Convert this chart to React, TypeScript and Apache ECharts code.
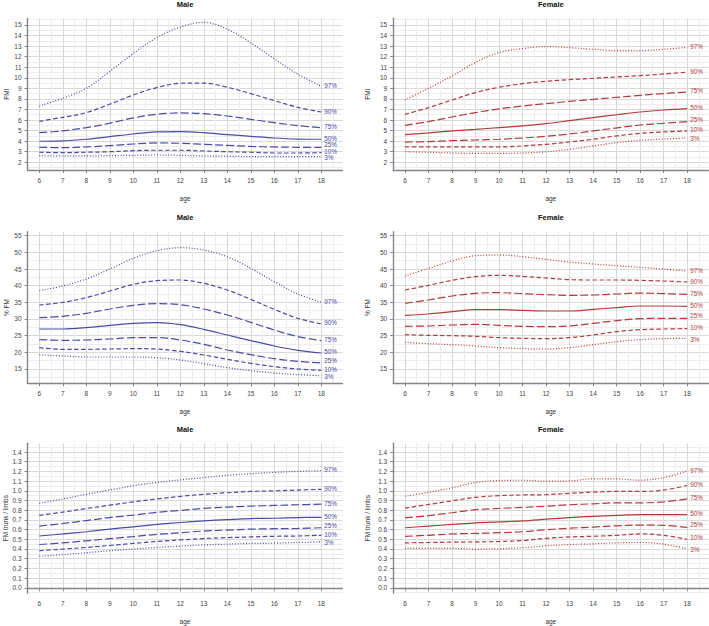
import React, { useEffect, useRef } from "react";
import * as echarts from "echarts";

// ---------- data ----------
const ages = [6, 7, 8, 9, 10, 11, 12, 13, 14, 15, 16, 17, 18];
const percentiles = ["97%", "90%", "75%", "50%", "25%", "10%", "3%"];

const ageTicks = [6, 7, 8, 9, 10, 11, 12, 13, 14, 15, 16, 17, 18];
const fmiTicks = [2, 3, 4, 5, 6, 7, 8, 9, 10, 11, 12, 13, 14, 15];
const fmTicks = [15, 20, 25, 30, 35, 40, 45, 50, 55];
const ratioTicks = [0, 0.1, 0.2, 0.3, 0.4, 0.5, 0.6, 0.7, 0.8, 0.9, 1.0, 1.1, 1.2, 1.3, 1.4];

// order of rows follows `percentiles`
const maleFmi = [
  [7.33, 8.06, 9.0, 10.6, 12.3, 13.8, 14.8, 15.25, 14.6, 13.3, 11.8, 10.35, 9.2],
  [5.88, 6.26, 6.7, 7.5, 8.37, 9.07, 9.48, 9.5, 9.1, 8.5, 7.84, 7.2, 6.76],
  [4.8, 4.97, 5.28, 5.7, 6.2, 6.54, 6.67, 6.6, 6.38, 6.07, 5.75, 5.47, 5.28],
  [3.99, 4.02, 4.18, 4.43, 4.68, 4.87, 4.9, 4.8, 4.62, 4.46, 4.3, 4.2, 4.18],
  [3.42, 3.39, 3.45, 3.58, 3.73, 3.83, 3.8, 3.7, 3.6, 3.5, 3.45, 3.42, 3.42],
  [2.95, 2.91, 2.95, 3.0, 3.1, 3.14, 3.14, 3.07, 3.0, 2.95, 2.88, 2.88, 2.91],
  [2.63, 2.6, 2.6, 2.63, 2.66, 2.69, 2.66, 2.6, 2.57, 2.54, 2.54, 2.54, 2.54],
];
const femaleFmi = [
  [7.9, 9.0, 10.17, 11.46, 12.38, 12.76, 12.95, 12.85, 12.7, 12.57, 12.57, 12.7, 12.88],
  [6.54, 7.17, 7.9, 8.6, 9.1, 9.44, 9.67, 9.82, 9.95, 10.08, 10.2, 10.36, 10.52],
  [5.5, 5.85, 6.29, 6.7, 7.05, 7.33, 7.55, 7.77, 7.96, 8.15, 8.34, 8.5, 8.66],
  [4.62, 4.78, 4.97, 5.12, 5.28, 5.44, 5.66, 5.94, 6.23, 6.5, 6.76, 6.95, 7.08],
  [3.9, 3.96, 4.05, 4.11, 4.18, 4.3, 4.46, 4.68, 4.97, 5.25, 5.53, 5.69, 5.85],
  [3.45, 3.45, 3.45, 3.45, 3.45, 3.55, 3.7, 3.92, 4.18, 4.5, 4.74, 4.87, 4.97],
  [3.0, 2.95, 2.88, 2.85, 2.85, 2.88, 3.0, 3.23, 3.55, 3.86, 4.08, 4.2, 4.3],
];
const maleFm = [
  [38.5, 39.9, 42, 45, 48.2, 50.5, 51.4, 50.7, 48.7, 45.2, 41.2, 37.5, 35.0],
  [34.2, 35, 36.4, 38.4, 40.4, 41.5, 41.7, 40.7, 38.7, 35.9, 32.9, 30.2, 28.5],
  [30.4, 30.8, 31.7, 33, 34.1, 34.6, 34.3, 33, 31.2, 29, 26.7, 24.7, 23.5],
  [27, 27, 27.4, 28.1, 28.7, 28.9, 28.3, 26.9, 25.2, 23.5, 21.9, 20.6, 19.8],
  [23.8, 23.6, 23.7, 24, 24.4, 24.4, 23.7, 22.4, 20.7, 19.3, 18.1, 17.3, 16.8],
  [21.4, 20.9, 20.9, 21, 21.1, 21, 20.3, 19.2, 17.9, 16.7, 15.7, 15, 14.6],
  [19.3, 18.9, 18.6, 18.6, 18.6, 18.4, 17.7, 16.6, 15.4, 14.5, 13.8, 13.3, 13.0],
];
const femaleFm = [
  [42.9, 45.2, 47.4, 49, 49.2, 48.7, 47.9, 47.1, 46.5, 46, 45.5, 45, 44.4],
  [38.7, 40.1, 41.6, 42.7, 43.1, 42.8, 42.3, 41.8, 41.7, 41.7, 41.6, 41.4, 41.1],
  [34.7, 35.7, 36.9, 37.7, 37.9, 37.6, 37.3, 37.1, 37.2, 37.5, 37.8, 37.6, 37.4],
  [31.1, 31.5, 32.2, 32.8, 32.8, 32.6, 32.4, 32.4, 32.9, 33.4, 33.9, 33.9, 33.8],
  [27.8, 27.9, 28.2, 28.4, 28.1, 27.8, 27.7, 27.9, 28.7, 29.5, 30.1, 30.2, 30.2],
  [25.3, 25.1, 25, 24.8, 24.4, 24.2, 24.1, 24.4, 25.2, 26.2, 26.8, 27, 27.1],
  [23, 22.6, 22.3, 21.9, 21.4, 21.1, 21, 21.4, 22.3, 23.2, 23.8, 24.1, 24.2],
];
const maleRatio = [
  [0.872, 0.916, 0.964, 1.008, 1.052, 1.086, 1.113, 1.136, 1.16, 1.177, 1.19, 1.2, 1.207],
  [0.747, 0.78, 0.818, 0.852, 0.886, 0.916, 0.943, 0.964, 0.98, 0.994, 1.0, 1.008, 1.015],
  [0.636, 0.663, 0.693, 0.724, 0.75, 0.778, 0.798, 0.818, 0.832, 0.842, 0.849, 0.856, 0.862],
  [0.534, 0.555, 0.578, 0.605, 0.629, 0.653, 0.673, 0.69, 0.703, 0.714, 0.717, 0.724, 0.727],
  [0.446, 0.463, 0.484, 0.507, 0.528, 0.551, 0.568, 0.585, 0.595, 0.605, 0.609, 0.612, 0.619],
  [0.382, 0.399, 0.416, 0.436, 0.457, 0.477, 0.494, 0.507, 0.517, 0.524, 0.531, 0.534, 0.541],
  [0.325, 0.342, 0.362, 0.382, 0.399, 0.416, 0.429, 0.443, 0.45, 0.457, 0.46, 0.467, 0.473],
];
const femaleRatio = [
  [0.944, 0.984, 1.031, 1.086, 1.106, 1.109, 1.099, 1.102, 1.123, 1.123, 1.109, 1.136, 1.204],
  [0.822, 0.859, 0.896, 0.933, 0.95, 0.957, 0.96, 0.974, 0.987, 0.994, 0.994, 1.008, 1.055],
  [0.72, 0.744, 0.774, 0.805, 0.818, 0.829, 0.842, 0.856, 0.866, 0.876, 0.876, 0.886, 0.916],
  [0.619, 0.636, 0.653, 0.67, 0.68, 0.69, 0.707, 0.724, 0.737, 0.747, 0.754, 0.754, 0.754],
  [0.531, 0.541, 0.555, 0.561, 0.568, 0.578, 0.599, 0.615, 0.626, 0.639, 0.646, 0.643, 0.622],
  [0.463, 0.467, 0.47, 0.473, 0.477, 0.487, 0.51, 0.524, 0.531, 0.541, 0.555, 0.541, 0.5],
  [0.406, 0.406, 0.406, 0.399, 0.402, 0.413, 0.433, 0.446, 0.453, 0.463, 0.467, 0.45, 0.402],
];

// ---------- styling ----------
const FONT = "Liberation Sans";
const MALE = "#4b4ba6";
const FEMALE = "#b23c3c";
const AXIS = "#858585";
const MAJOR = "#d9d9d9";
const MINOR = "#eeeeee";

const dashFor = (p: string): any => {
  if (p === "97%" || p === "3%") return [1, 1.8];
  if (p === "90%" || p === "10%") return [4.5, 2.5];
  if (p === "75%" || p === "25%") return [8, 3];
  return "solid";
};
const labelShift = (p: string): number => {
  if (p === "25%") return -2.5;
  if (p === "10%") return -1.3;
  if (p === "3%") return 1;
  return -1;
};

const cols = [
  { left: 27.55, width: 314.9, title: "Male", color: MALE, nameGap: 17 },
  { left: 393.2, width: 315.2, title: "Female", color: FEMALE, nameGap: 22 },
];
const rows = [
  { top: 18.3, height: 151.7, min: 1.27, max: 15.63, split: 14, ticks: fmiTicks, name: "FMI", dec: 0, data: [maleFmi, femaleFmi] },
  { top: 231.7, height: 151.6, min: 10.7, max: 56.2, split: 9, ticks: fmTicks, name: "% FM", dec: 0, data: [maleFm, femaleFm] },
  { top: 443.3, height: 152.3, min: -0.054, max: 1.49, split: 15, ticks: ratioTicks, name: "FM trunk / limbs", dec: 1, data: [maleRatio, femaleRatio] },
];

function buildOption() {
  const grid: any[] = [];
  const xAxis: any[] = [];
  const yAxis: any[] = [];
  const series: any[] = [];
  const graphic: any[] = [];
  let idx = 0;
  rows.forEach((r) => {
    cols.forEach((c, ci) => {
      grid.push({ left: c.left, top: r.top, width: c.width, height: r.height, containLabel: false });
      xAxis.push({
        type: "value",
        gridIndex: idx,
        min: 5.5,
        max: 18.9,
        splitNumber: 13,
        name: "age",
        nameLocation: "middle",
        nameGap: 25,
        nameTextStyle: { fontFamily: FONT, fontSize: 6.5, color: "#333" },
        axisLine: { show: true, lineStyle: { color: AXIS, width: 1.4 } },
        axisTick: { show: true, length: 3, customValues: ageTicks, lineStyle: { color: AXIS } },
        axisLabel: { customValues: ageTicks, fontFamily: FONT, fontSize: 6.5, color: "#444", margin: 7, formatter: (v: number) => String(v) },
        splitLine: { show: true, lineStyle: { color: MAJOR, width: 1 } },
        minorTick: { show: false, splitNumber: 2 },
        minorSplitLine: { show: true, lineStyle: { color: MINOR, width: 1 } },
      });
      yAxis.push({
        type: "value",
        gridIndex: idx,
        min: r.min,
        max: r.max,
        splitNumber: r.split,
        name: r.name,
        nameLocation: "middle",
        nameGap: c.nameGap,
        nameTextStyle: { fontFamily: FONT, fontSize: 6.5, color: "#333" },
        axisLine: { show: true, lineStyle: { color: AXIS, width: 1.4 } },
        axisTick: { show: true, length: 3, customValues: r.ticks, lineStyle: { color: AXIS } },
        axisLabel: { customValues: r.ticks, fontFamily: FONT, fontSize: 6.5, color: "#444", margin: 6, formatter: (v: number) => v.toFixed(r.dec) },
        splitLine: { show: true, lineStyle: { color: MAJOR, width: 1 } },
        minorTick: { show: false, splitNumber: 2 },
        minorSplitLine: { show: true, lineStyle: { color: MINOR, width: 1 } },
      });
      graphic.push({
        type: "text",
        x: c.left + c.width / 2,
        y: r.top - 14,
        style: {
          text: c.title,
          align: "center",
          textAlign: "center",
          verticalAlign: "middle",
          textVerticalAlign: "middle",
          fontFamily: FONT,
          fontSize: 7.5,
          fontWeight: "bold",
          fill: "#111",
        },
      });
      const set = r.data[ci];
      percentiles.forEach((p, pi) => {
        series.push({
          type: "line",
          name: `${c.title} ${r.name} ${p}`,
          xAxisIndex: idx,
          yAxisIndex: idx,
          data: ages.map((a, i) => [a, set[pi][i]]),
          showSymbol: false,
          symbol: "none",
          smooth: 0.35,
          silent: true,
          lineStyle: { color: c.color, width: 1.2, type: dashFor(p) },
          endLabel: {
            show: true,
            formatter: p,
            color: c.color,
            fontFamily: FONT,
            fontSize: 6.3,
            lineHeight: 5,
            padding: 0,
            distance: 3,
            offset: [0, labelShift(p)],
          },
        });
      });
      idx++;
    });
  });
  return {
    animation: false,
    backgroundColor: "#ffffff",
    grid,
    xAxis,
    yAxis,
    series,
    graphic,
  };
}

export default function App() {
  const ref = useRef<HTMLDivElement>(null);
  useEffect(() => {
    if (!ref.current) return;
    const chart = echarts.init(ref.current, undefined, { renderer: "svg" });
    chart.setOption(buildOption() as any);
    return () => chart.dispose();
  }, []);
  return (
    <div
      ref={ref}
      style={{ position: "absolute", left: 0, top: 0, width: 709, height: 626, background: "#fff" }}
    />
  );
}
